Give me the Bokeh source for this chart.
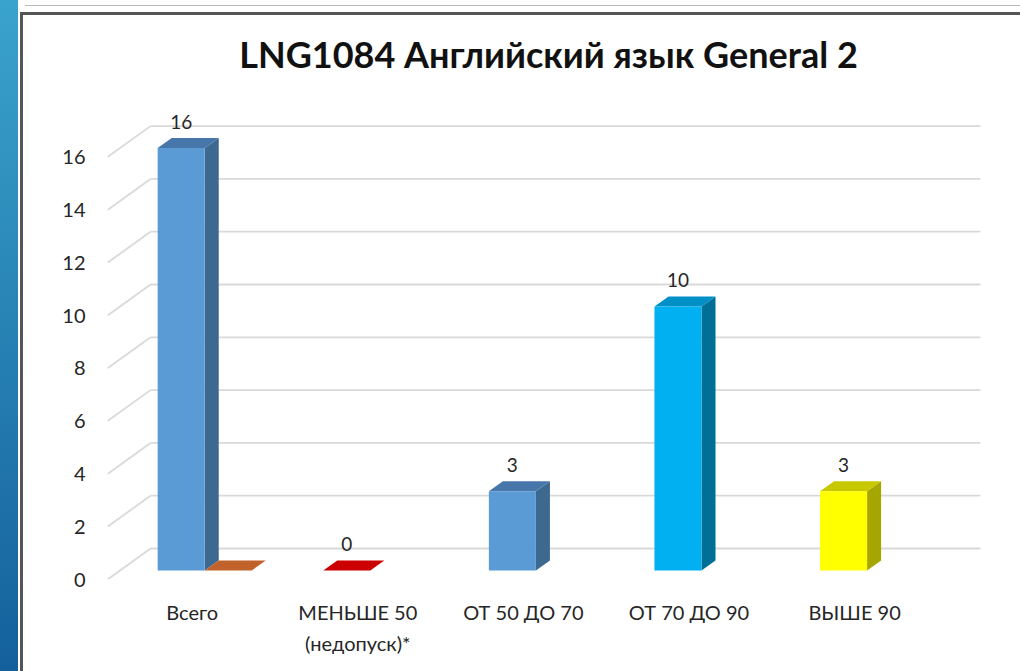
from bokeh.plotting import figure
from bokeh.models import Range1d, FixedTicker
from bokeh.core.properties import value
from bokeh.embed import file_html
from bokeh.resources import INLINE

# ---------------- data ----------------
title_text = "LNG1084 Английский язык General 2"
categories = ["Всего", "МЕНЬШЕ 50\n(недопуск)*", "ОТ 50 ДО 70", "ОТ 70 ДО 90", "ВЫШЕ 90"]
series1 = [16, 0, 3, 10, 3]
series2 = [0, None, None, None, None]
y_ticks = [0, 2, 4, 6, 8, 10, 12, 14, 16]

# ---------------- styles ----------------
s1_front = ["#5b9bd5", "#c00000", "#5b9bd5", "#00b0f0", "#ffff00"]
s1_top = ["#4676aa", "#cc0000", "#4676aa", "#0090c6", "#c8c800"]
s1_side = ["#3d6890", "#900000", "#3d6890", "#006f98", "#a6a600"]
s2_front, s2_top, s2_side = "#ed7d31", "#c0622a", "#a0501f"

FONT = "Lato"
DX, DY = 0.26, 1.174          # depth of the 3D box (category units, value units)
D_FRONT, D_BACK = 0.29, 0.616  # bar depth fraction
SLOT_W, SLOT_OFF = 0.284, 0.142
X0, X1 = -0.5115, 4.8146
BACK_RIGHT = 4.760
Y1 = 18.144

W, H = 1020, 671
p = figure(width=W, height=H, output_backend="svg", toolbar_location=None,
           x_range=Range1d(X0, X1), y_range=Range1d(0, Y1),
           min_border_left=107, min_border_right=W - 989, min_border_top=100, min_border_bottom=H - 579,
           background_fill_color="white", border_fill_color=None, outline_line_color=None)

# screenshot framing (CSS background behind the transparent border area)
p.styles = {
    "background": ("linear-gradient(#3aa3cc, #14609c) 0px 0px / 18px 100% no-repeat, "
                   "linear-gradient(#555555, #555555) 20px 12px / 3px 100% no-repeat, "
                   "linear-gradient(#555555, #555555) 20px 12px / 100% 3px no-repeat, "
                   "linear-gradient(#bbbbbb, #bbbbbb) 25px 5px / 100% 1px no-repeat, "
                   "white"),
}

# ---- 3D gridlines: back wall + left wall diagonals ----
gx0, gx1, gy = [], [], []
dxs, dys = [], []
for t in y_ticks:
    gx0.append(X0 + DX); gx1.append(BACK_RIGHT); gy.append(t + DY)
    dxs.append([X0, X0 + DX]); dys.append([t, t + DY])
p.segment(x0=gx0, y0=gy, x1=gx1, y1=gy, line_color="#d9d9d9", line_width=1.8)
p.multi_line(xs=dxs, ys=dys, line_color="#d9d9d9", line_width=1.8)

# ---- bars ----
def bar_polys(center, val):
    l = center - SLOT_W / 2 + D_FRONT * DX
    r = l + SLOT_W
    b = D_FRONT * DY
    t = val + b
    ddx = (D_BACK - D_FRONT) * DX
    ddy = (D_BACK - D_FRONT) * DY
    front = ([l, r, r, l], [b, b, t, t])
    top = ([l, r, r + ddx, l + ddx], [t, t, t + ddy, t + ddy])
    side = ([r, r + ddx, r + ddx, r], [b, b + ddy, t + ddy, t])
    return front, top, side, (l + r) / 2, t

fx, fy, fc, tx, ty, tc, sx, sy, sc = [], [], [], [], [], [], [], [], []
lab_x, lab_y, lab_t = [], [], []
for i, v in enumerate(series1):
    front, top, side, cx, t = bar_polys(i - SLOT_OFF, v)
    if v > 0:
        fx.append(front[0]); fy.append(front[1]); fc.append(s1_front[i])
        sx.append(side[0]); sy.append(side[1]); sc.append(s1_side[i])
    tx.append(top[0]); ty.append(top[1]); tc.append(s1_top[i])
    lab_x.append(cx); lab_y.append(t + 1.0); lab_t.append(str(v))
for i, v in enumerate(series2):
    if v is None:
        continue
    front, top, side, cx, t = bar_polys(i + SLOT_OFF, v)
    if v > 0:
        fx.append(front[0]); fy.append(front[1]); fc.append(s2_front)
        sx.append(side[0]); sy.append(side[1]); sc.append(s2_side)
    tx.append(top[0]); ty.append(top[1]); tc.append(s2_top)

p.patches(xs=sx, ys=sy, fill_color=sc, line_color=None)
p.patches(xs=tx, ys=ty, fill_color=tc, line_color=None)
p.patches(xs=fx, ys=fy, fill_color=fc, line_color=None)

p.text(x=lab_x, y=lab_y, text=lab_t, text_align="center", text_baseline="alphabetic",
       text_font=value(FONT), text_font_size="19px", text_color="#262626")

# ---- axes ----
p.xgrid.visible = False
p.ygrid.visible = False
p.yaxis.ticker = FixedTicker(ticks=y_ticks)
p.yaxis.axis_line_color = None
p.yaxis.major_tick_line_color = None
p.yaxis.minor_tick_line_color = None
p.yaxis.major_label_standoff = 16
p.yaxis.major_label_text_font = FONT
p.yaxis.major_label_text_font_size = "20px"
p.yaxis.major_label_text_color = "#262626"

p.xaxis.ticker = FixedTicker(ticks=list(range(len(categories))))
p.xaxis.major_label_overrides = {i: c for i, c in enumerate(categories)}
p.xaxis.axis_line_color = None
p.xaxis.major_tick_line_color = None
p.xaxis.minor_tick_line_color = None
p.xaxis.major_label_standoff = 14
p.xaxis.major_label_text_font = FONT
p.xaxis.major_label_text_font_size = "20px"
p.xaxis.major_label_text_color = "#262626"
p.xaxis.major_label_text_line_height = 1.3

p.title.text = title_text
p.title.align = "center"
p.title.text_font = FONT
p.title.text_font_style = "bold"
p.title.text_font_size = "36px"
p.title.text_color = "#111111"
p.title.standoff = 50

open("out.html", "w").write(file_html(p, INLINE))
